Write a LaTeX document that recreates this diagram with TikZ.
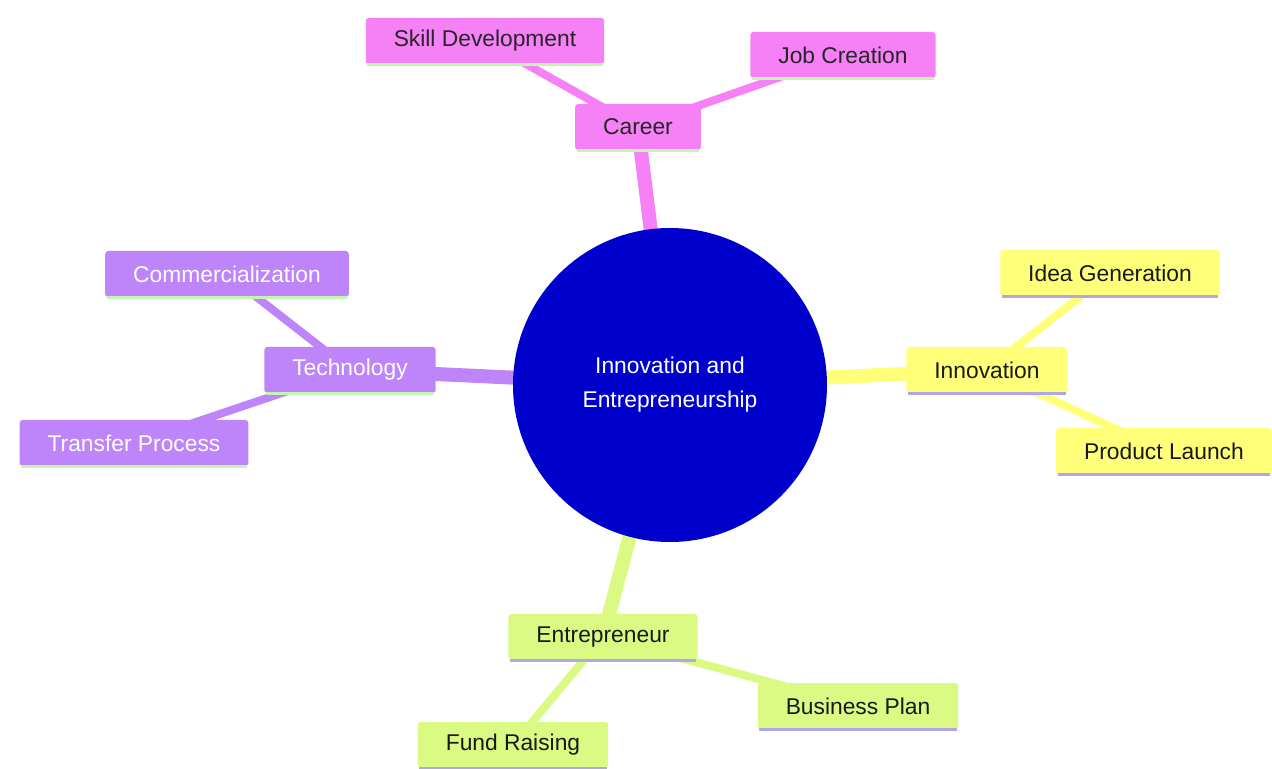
\documentclass[tikz,border=0pt]{standalone}
\usepackage{fontspec}
\setmainfont{Liberation Sans}
\usetikzlibrary{positioning,backgrounds}
\definecolor{rootblue}{RGB}{0,0,204}
\definecolor{pinkfill}{RGB}{246,128,246}
\definecolor{purplefill}{RGB}{190,132,250}
\definecolor{yellowfill}{RGB}{255,255,122}
\definecolor{greenfill}{RGB}{218,250,132}
\definecolor{greenline}{RGB}{196,245,176}
\definecolor{lilacline}{RGB}{176,166,232}
\tikzset{underline/.style={append after command={(\tikzlastnode.south west) edge[draw=#1, line width=1.5pt, shorten <=1pt, shorten >=1pt] (\tikzlastnode.south east)}}}
\tikzstyle{root}=[circle, fill=rootblue, text=white, minimum size=157pt, align=center, font=\fontsize{11.4}{17}\selectfont]
\tikzstyle{topic}=[rounded corners=1.5pt, minimum height=23pt, inner xsep=14pt, font=\fontsize{11.4}{13.7}\selectfont]
\tikzstyle{pinkbox}=[topic, fill=pinkfill, text=black!85, underline=greenline]
\tikzstyle{purplebox}=[topic, fill=purplefill, text=white, underline=greenline]
\tikzstyle{yellowbox}=[topic, fill=yellowfill, text=black!90, underline=lilacline]
\tikzstyle{greenbox}=[topic, fill=greenfill, text=black!90, underline=lilacline]
\tikzstyle{stem}=[line width=7pt]
\tikzstyle{twig}=[line width=4pt]

\begin{document}
\begin{tikzpicture}[on grid]
	\useasboundingbox (-335pt,-192pt) rectangle (301pt,192.5pt);
	\node[root] (core) at (0,0) {Innovation and\\Entrepreneurship};
	% career branch
	\node[pinkbox, above left=129pt and 16pt of core] (career) {Career};
	\node[pinkbox, above left=43pt and 76.5pt of career] (skill) {Skill Development};
	\node[pinkbox, above right=36pt and 102.5pt of career] (job) {Job Creation};
	% technology branch
	\node[purplebox, above left=7.5pt and 160pt of core] (tech) {Technology};
	\node[purplebox, above left=48pt and 61.5pt of tech] (comm) {Commercialization};
	\node[purplebox, below left=36.5pt and 108pt of tech] (transfer) {Transfer Process};
	% innovation branch
	\node[yellowbox, above right=7.5pt and 158.5pt of core] (innov) {Innovation};
	\node[yellowbox, above right=48.5pt and 61.5pt of innov] (idea) {Idea Generation};
	\node[yellowbox, below right=40.5pt and 88.5pt of innov] (launch) {Product Launch};
	% entrepreneur branch
	\node[greenbox, below left=126pt and 33.5pt of core] (entre) {Entrepreneur};
	\node[greenbox, below right=34.5pt and 127.5pt of entre] (plan) {Business Plan};
	\node[greenbox, below left=54pt and 45pt of entre] (fund) {Fund Raising};
	\begin{pgfonlayer}{background}
		\draw[stem, pinkfill] (core.center) -- (career.center);
		\draw[twig, pinkfill] (career.center) -- (skill.center);
		\draw[twig, pinkfill] (career.center) -- (job.center);
		\draw[stem, purplefill] (core.center) -- (tech.center);
		\draw[twig, purplefill] (tech.center) -- (comm.center);
		\draw[twig, purplefill] (tech.center) -- (transfer.center);
		\draw[stem, yellowfill] (core.center) -- (innov.center);
		\draw[twig, yellowfill] (innov.center) -- (idea.center);
		\draw[twig, yellowfill] (innov.center) -- (launch.center);
		\draw[stem, greenfill] (core.center) -- (entre.center);
		\draw[twig, greenfill] (entre.center) -- (plan.center);
		\draw[twig, greenfill] (entre.center) -- (fund.center);
	\end{pgfonlayer}
\end{tikzpicture}
\end{document}
